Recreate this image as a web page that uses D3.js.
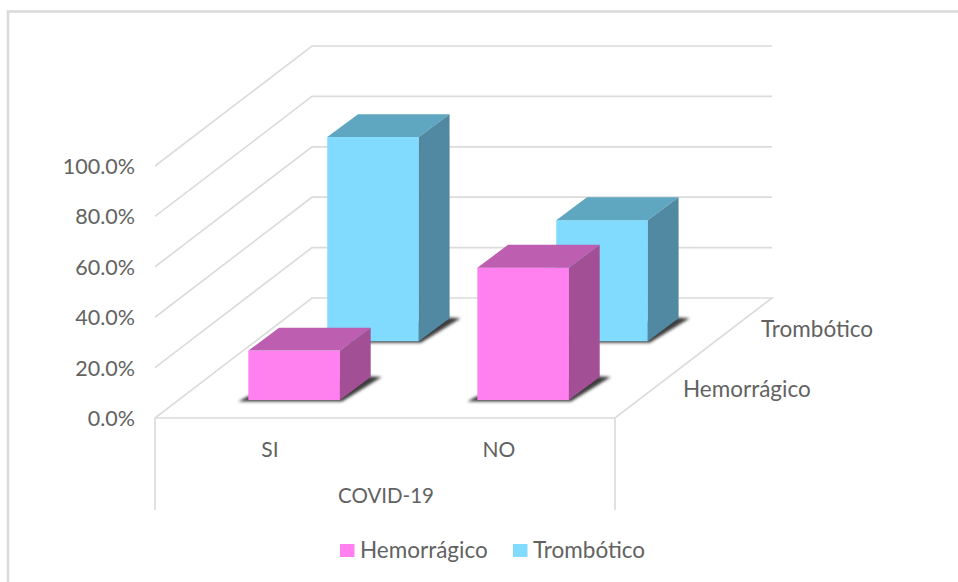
<!DOCTYPE html>
<html>
<head>
<meta charset="utf-8">
<script src="https://cdn.jsdelivr.net/npm/d3@7/dist/d3.min.js"></script>
<style>
html,body{margin:0;padding:0;background:#fff;}
svg{display:block;}
text{font-family:Lato,"Open Sans",sans-serif;fill:#626262;}
</style>
</head>
<body>
<svg id="chart" width="958" height="582"></svg>
<script>
// Chart content
const categories = ["SI", "NO"];
const seriesNames = ["Hemorrágico", "Trombótico"];
const hemorragico = [19.6, 52.5];
const trombotico = [81, 48];
const yTicks = [0, 20, 40, 60, 80, 100];
const categoryAxisTitle = "COVID-19";

const frontColors = {"Hemorrágico": "#ff80ee", "Trombótico": "#80dbff"};
const topColors = {"Hemorrágico": "#bd5eb0", "Trombótico": "#5fa6c1"};
const sideColors = {"Hemorrágico": "#a34f96", "Trombótico": "#5089a1"};

const svg = d3.select("#chart");

// Oblique box: front floor edge runs along y=418, depth recedes up and to the right.
const floorLeft = 157, floorRight = 615, floorY = 418;
const depthX = 155, depthY = 120;
const barSkewX = 161;

const x = d3.scaleBand().domain(categories).range([floorLeft - 1.5, floorRight - 1.5]).paddingInner(0.6).paddingOuter(0.3);
const y = d3.scaleLinear().domain([0, 100]).range([0, 252]);
const barDepth = 0.191;
const zFront = {"Hemorrágico": 0.15, "Trombótico": 0.64};

const pt = (sx, sy) => sx + "," + sy;
const grid = svg.append("g").attr("fill", "none").attr("stroke", "#dcdcdc").attr("stroke-width", 1.7);

// Chart frame: left and top edges only
svg.append("path").attr("d", "M8,582V11.5H958").attr("fill", "none").attr("stroke", "#dadada").attr("stroke-width", 2.5);

// Walls and floor
yTicks.forEach(t => {
  const h = y(t);
  const backY = floorY - depthY - h;
  const wallLine = `M${floorLeft - 2},${floorY - h}L${floorLeft + depthX},${backY}H${floorRight + 157}`;
  grid.append("path").attr("d", t === 0 ? wallLine + `L${floorRight},${floorY}H${floorLeft - 2}` : wallLine);
});
// Multi-level category axis brackets below the floor
grid.append("path").attr("d", `M${floorLeft - 2},${floorY}V510M${floorRight},${floorY}V510`);

// Value axis labels
svg.append("g").selectAll("text").data(yTicks).join("text")
  .attr("x", 135).attr("y", d => floorY - y(d) + 8)
  .attr("text-anchor", "end").attr("font-size", 21.5)
  .text(d => d.toFixed(1) + "%");

// Category labels
svg.append("g").selectAll("text").data(categories).join("text")
  .attr("x", d => x(d) + x.bandwidth() / 2).attr("y", 457)
  .attr("text-anchor", "middle").attr("font-size", 21)
  .text(d => d);
svg.append("text").attr("x", 338).attr("y", 503).attr("font-size", 21)
  .attr("textLength", 96).attr("lengthAdjust", "spacingAndGlyphs").text(categoryAxisTitle);

// Depth axis labels
const depthLabelPos = {"Hemorrágico": [683, 397], "Trombótico": [761, 337]};
svg.append("g").selectAll("text").data(seriesNames).join("text")
  .attr("x", d => depthLabelPos[d][0]).attr("y", d => depthLabelPos[d][1])
  .attr("font-size", 22.5).text(d => d);

const defs = svg.append("defs");
defs.append("filter").attr("id", "soft").attr("x", "-20%").attr("y", "-20%").attr("width", "140%").attr("height", "140%")
  .append("feGaussianBlur").attr("stdDeviation", 1.6);

// Boxes are painted far to near so closer ones overlap farther ones
const drawOrder = [
  {c: "SI", s: "Trombótico", v: trombotico[0]},
  {c: "SI", s: "Hemorrágico", v: hemorragico[0]},
  {c: "NO", s: "Trombótico", v: trombotico[1]},
  {c: "NO", s: "Hemorrágico", v: hemorragico[1]}
];

drawOrder.forEach(b => {
  const g = svg.append("g");
  const z0 = zFront[b.s];
  const w = x.bandwidth();
  const left = x(b.c) + z0 * barSkewX;
  const right = left + w;
  const dx = barDepth * barSkewX, dy = barDepth * depthY;
  const base = floorY - z0 * depthY;
  const top = base - y(b.v);

  // Cast shadow on the floor
  g.append("polygon")
    .attr("points", [pt(left - 10, base + 1.5), pt(right + 2, base + 1.5), pt(right + dx + 11, base - dy), pt(right + dx - 6, base - dy - 1), pt(left, base - 4)].join(" "))
    .attr("fill", "#3c3c3c").attr("filter", "url(#soft)");
  // Front face
  g.append("rect").attr("x", left).attr("y", top).attr("width", w).attr("height", base - top).attr("fill", frontColors[b.s]);
  // Top face
  g.append("polygon")
    .attr("points", [pt(left, top), pt(right, top), pt(right + dx, top - dy), pt(left + dx, top - dy)].join(" "))
    .attr("fill", topColors[b.s]);
  // Side face
  g.append("polygon")
    .attr("points", [pt(right, top), pt(right + dx, top - dy), pt(right + dx, base - dy), pt(right, base)].join(" "))
    .attr("fill", sideColors[b.s]);
});

// Legend
const legend = svg.append("g");
const legendItems = [{n: "Hemorrágico", sx: 340, tx: 360}, {n: "Trombótico", sx: 513, tx: 533}];
legendItems.forEach(d => {
  legend.append("rect").attr("x", d.sx).attr("y", 544).attr("width", 14.5).attr("height", 13).attr("fill", frontColors[d.n]);
  legend.append("text").attr("x", d.tx).attr("y", 558).attr("font-size", 22.5).text(d.n);
});
</script>
</body>
</html>
